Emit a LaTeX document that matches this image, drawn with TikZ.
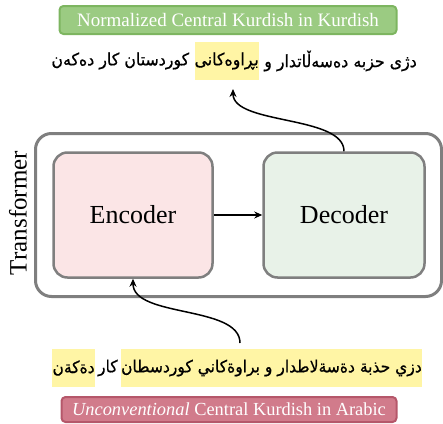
\documentclass[tikz,border=0pt]{standalone}
\usepackage{fontspec}
\setmainfont{Liberation Serif}
\newfontfamily\arabicfont[Script=Arabic,FakeStretch=0.93,FakeBold=0.6]{DejaVu Sans}
\TeXXeTstate=1
\usetikzlibrary{arrows.meta}
\definecolor{boxgray}{HTML}{7F7F7F}
\definecolor{encfill}{HTML}{FBE5E6}
\definecolor{decfill}{HTML}{E8F2E8}
\definecolor{grnfill}{HTML}{9BCB82}
\definecolor{grndraw}{HTML}{7DB560}
\definecolor{redfill}{HTML}{D17B8B}
\definecolor{reddraw}{HTML}{B5576A}
\definecolor{hlyellow}{HTML}{FFF5A5}
\tikzset{
  box/.style={draw=boxgray, line width=2.5pt, rounded corners=14pt},
  label box/.style={line width=2pt, rounded corners=4pt, text=white, font=\fontsize{19}{22}\selectfont, inner sep=0pt},
  ar/.style={font=\arabicfont\fontsize{17}{20}\selectfont, inner xsep=0pt, inner ysep=0pt, minimum height=38pt},
  arb/.style={ar, font=\arabicfont\fontsize{16.7}{20}\selectfont},
  hl/.style={fill=hlyellow},
  arr/.style={-{Stealth[length=8pt,width=7pt]}, line width=1.5pt},
}
\begin{document}
\begin{tikzpicture}[x=1pt,y=-1pt]
\useasboundingbox (0,0) rectangle (443,423);
% outer transformer box
\node[box, line width=3pt, rounded corners=16pt, minimum width=406pt, minimum height=163pt] (trans) at (238.5,215) {};
\node[rotate=90, font=\fontsize{25}{28}\selectfont] (translabel) at (18,213) {Transformer};
% encoder / decoder
\node[box, fill=encfill, minimum width=159pt, minimum height=125pt, font=\fontsize{26}{30}\selectfont] (enc) at (133,215) {Encoder};
\node[box, fill=decfill, minimum width=161pt, minimum height=125pt, font=\fontsize{26}{30}\selectfont] (dec) at (344,215) {Decoder};
\draw[arr] (enc.east) -- (dec.west);
% top label
\node[label box, fill=grnfill, draw=grndraw, minimum width=337pt, minimum height=28pt] (toplabel) at (228,20) {Normalized Central Kurdish in Kurdish};
% top kurdish text
\node[ar, anchor=east] (t1) at (417,61) {\beginR دژی حزبە دەسەڵاتدار و\endR};
\node[ar, hl, anchor=east] (t2) at ([xshift=-5pt]t1.west) {\beginR بڕاوەکانی\endR};
\node[ar, anchor=east] (t3) at ([xshift=-5pt]t2.west) {\beginR کوردستان کار دەکەن\endR};
% bottom arabic-script text
\node[arb, hl, anchor=east] (b1) at (422,368) {\beginR دزي حذبة دةسةلاطدار و براوةكاني كوردسطان\endR};
\node[arb, anchor=east, inner xsep=3pt] (b2) at (b1.west) {\beginR كار\endR};
\node[arb, hl, anchor=east] (b3) at (b2.west) {\beginR دةكةن\endR};
% bottom label
\node[label box, fill=redfill, draw=reddraw, minimum width=335pt, minimum height=25pt, font=\fontsize{18.4}{22}\selectfont] (botlabel) at (229,409.5) {\textit{Unconventional} Central Kurdish in Arabic};
% curved arrows
\coordinate (toptip) at (233,89);
\coordinate (bottail) at (240,343);
\draw[arr] (dec.north) .. controls (344,115) and (233,125) .. (toptip);
\draw[arr] (bottail) .. controls (240,305) and (133,318) .. (enc.south);
\end{tikzpicture}
\end{document}
